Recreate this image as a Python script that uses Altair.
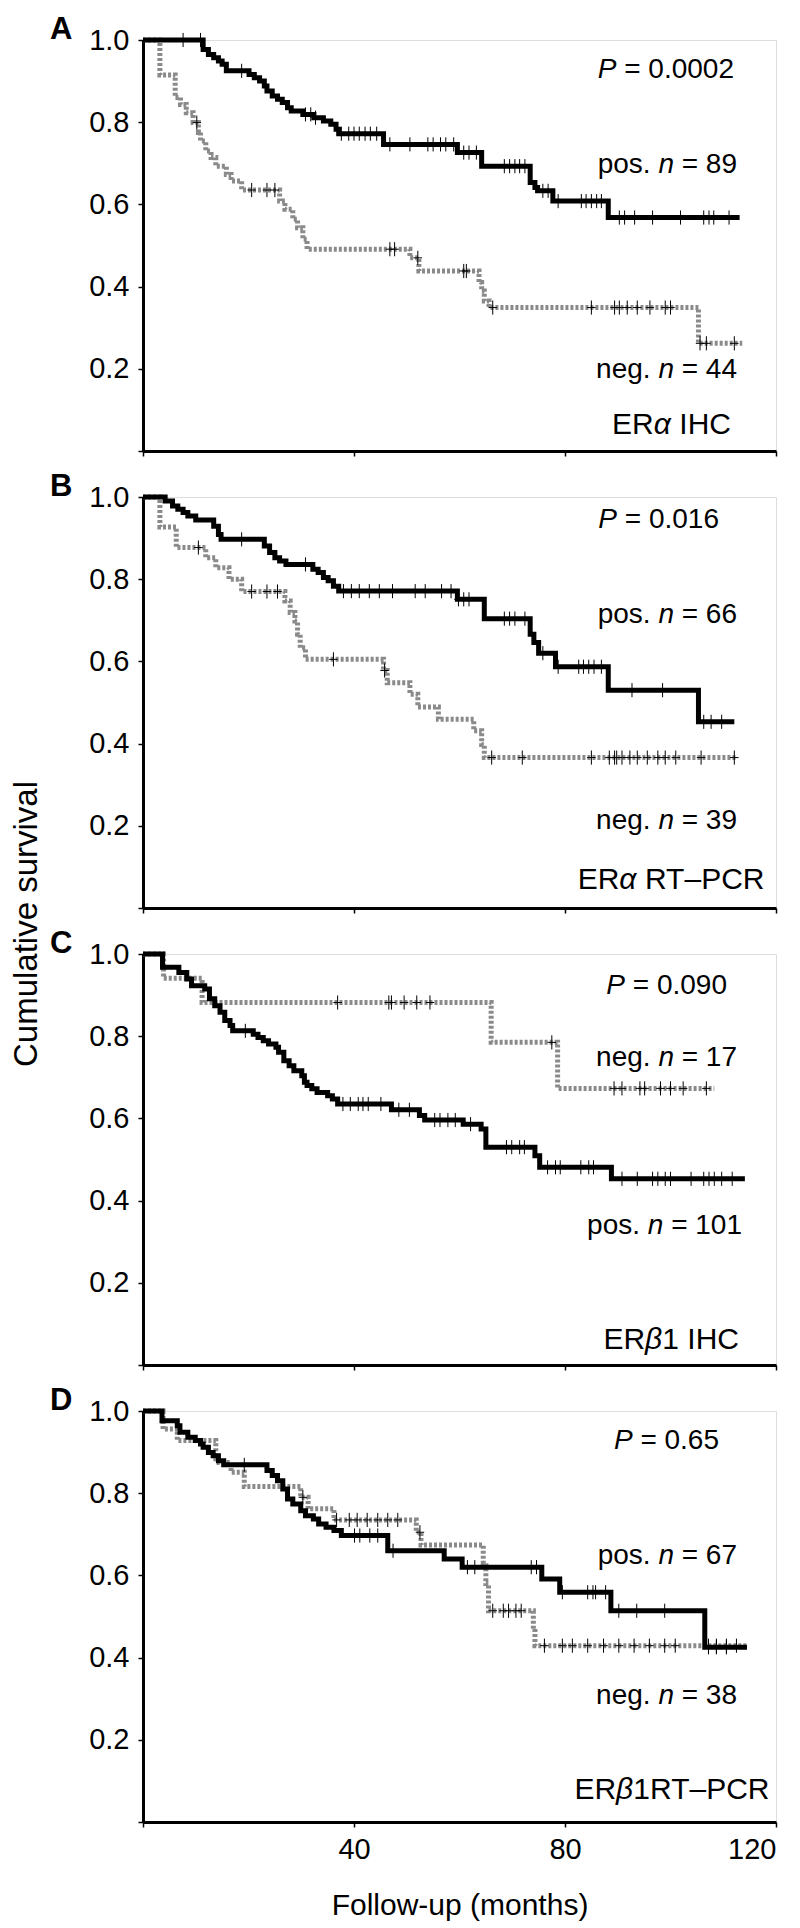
import altair as alt
import pandas as pd

# ---------------- data ----------------
A_pos_t = [0, 11.4, 12.4, 13.4, 14.3, 15.0, 15.8, 20.1, 21.1, 22.1, 23.0, 23.5, 24.5, 25.5, 26.4, 27.4, 28.1,
           30.3, 32.4, 34.2, 35.6, 36.6, 37.1, 45.6, 59.6, 64.2, 73.4, 74.3, 74.8, 77.7, 88.2, 113.1]
A_pos_s = [1.0, 0.977, 0.965, 0.957, 0.949, 0.941, 0.925, 0.916, 0.908, 0.900, 0.888, 0.876, 0.864, 0.856, 0.848,
           0.835, 0.827, 0.819, 0.811, 0.803, 0.795, 0.783, 0.772, 0.746, 0.726, 0.693, 0.653, 0.641, 0.633, 0.608,
           0.568, 0.568]
A_neg_t = [0, 3.2, 6.1, 7.1, 8.2, 9.5, 10.5, 10.9, 11.9, 12.9, 13.8, 15.8, 16.7, 18.7, 25.9, 26.9, 28.4, 29.3,
           30.3, 31.1, 50.6, 52.3, 63.7, 64.2, 64.7, 65.6, 105.3, 113.6]
A_neg_s = [1.0, 0.915, 0.860, 0.843, 0.823, 0.799, 0.775, 0.754, 0.730, 0.714, 0.693, 0.673, 0.657, 0.635, 0.608,
           0.588, 0.564, 0.543, 0.515, 0.491, 0.470, 0.438, 0.410, 0.389, 0.365, 0.349, 0.262, 0.262]
A_pos_cens = [7.6, 10.9, 18.7, 30.8, 31.8, 32.7, 37.6, 39.0, 40.0, 41.0, 42.1, 43.1, 44.3, 46.8, 50.6, 54.0, 55.0,
              56.4, 57.4, 58.9, 60.8, 61.8, 63.2, 68.5, 69.5, 70.5, 71.4, 72.4, 75.8, 76.8, 78.7, 83.1, 84.0, 85.0,
              86.0, 86.9, 90.3, 91.3, 93.2, 96.6, 101.9, 106.3, 107.3, 108.2, 111.1]
A_neg_cens = [10.2, 20.6, 23.5, 25.0, 46.8, 47.7, 52.1, 60.8, 61.3, 66.3, 85.0, 89.4, 90.3, 91.8, 93.7, 96.1, 99.0,
              100.0, 105.6, 106.8, 112.1]

B_pos_t = [0, 4.2, 5.6, 6.6, 7.6, 8.5, 10.0, 13.4, 14.3, 14.8, 23.0, 24.0, 25.0, 25.9, 27.1, 32.2, 33.2, 34.2,
           35.1, 36.1, 37.1, 59.6, 64.7, 73.4, 74.1, 75.0, 78.2, 88.2, 105.3, 112.1]
B_pos_s = [1.0, 0.990, 0.978, 0.970, 0.962, 0.954, 0.944, 0.929, 0.909, 0.897, 0.881, 0.865, 0.852, 0.844, 0.836,
           0.824, 0.816, 0.804, 0.796, 0.783, 0.771, 0.751, 0.704, 0.666, 0.646, 0.620, 0.587, 0.530, 0.453, 0.453]
B_neg_t = [0, 3.2, 6.3, 11.9, 13.8, 16.3, 18.7, 26.9, 27.9, 28.8, 29.3, 29.8, 30.8, 45.6, 46.3, 50.6, 52.1, 56.0,
           62.7, 64.2, 64.7, 112.6]
B_neg_s = [1.0, 0.927, 0.877, 0.852, 0.828, 0.800, 0.770, 0.747, 0.719, 0.698, 0.666, 0.633, 0.605, 0.578, 0.548,
           0.520, 0.489, 0.459, 0.431, 0.398, 0.366, 0.366]
B_pos_cens = [18.7, 30.8, 38.0, 39.5, 41.0, 42.9, 44.8, 47.3, 51.6, 53.5, 56.6, 58.4, 59.8, 60.8, 61.8, 68.5, 69.5,
              70.5, 72.4, 75.8, 78.7, 82.6, 83.5, 84.5, 85.5, 86.9, 92.7, 98.5, 106.3, 107.7, 109.7]
B_neg_cens = [10.5, 20.6, 23.5, 25.5, 36.1, 45.8, 66.1, 71.9, 85.0, 88.4, 89.4, 89.8, 90.8, 92.3, 93.7, 95.6, 97.6,
              99.0, 101.0, 105.8, 112.1]

C_pos_t = [0, 3.7, 6.8, 8.3, 9.2, 11.7, 12.6, 13.6, 14.6, 15.5, 16.5, 17.0, 20.9, 21.8, 22.8, 23.8, 25.2, 25.7,
           26.7, 27.7, 28.6, 30.1, 30.6, 31.1, 32.0, 33.0, 35.0, 35.9, 36.9, 47.1, 52.4, 53.4, 60.7, 64.1, 65.0,
           74.3, 75.2, 88.8, 114.1]
C_pos_s = [1.0, 0.968, 0.955, 0.939, 0.923, 0.915, 0.891, 0.874, 0.858, 0.838, 0.826, 0.813, 0.805, 0.797, 0.789,
           0.781, 0.773, 0.761, 0.740, 0.728, 0.716, 0.704, 0.688, 0.680, 0.672, 0.663, 0.655, 0.647, 0.635, 0.621,
           0.607, 0.596, 0.586, 0.574, 0.530, 0.509, 0.481, 0.453, 0.453]
C_neg_t = [0, 3.9, 11.2, 66.0, 78.6, 108.3]
C_neg_s = [1.0, 0.941, 0.882, 0.785, 0.673, 0.673]
C_pos_cens = [19.4, 37.9, 39.3, 40.8, 41.7, 42.7, 45.1, 48.5, 50.5, 55.3, 56.3, 57.8, 59.2, 62.1, 68.9, 69.9, 71.4,
              72.3, 76.7, 78.2, 79.1, 83.0, 84.5, 85.4, 90.8, 93.7, 96.6, 97.6, 99.0, 100.0, 103.9, 106.3, 107.3,
              108.3, 109.7, 111.7]
C_neg_cens = [36.9, 46.6, 47.1, 49.5, 51.9, 54.4, 77.5, 89.3, 90.8, 94.2, 95.1, 98.1, 100.0, 102.4, 106.8]

D_pos_t = [0, 3.6, 6.5, 7.0, 8.5, 9.9, 10.9, 11.4, 12.4, 13.3, 14.3, 15.3, 23.5, 24.5, 25.5, 26.5, 27.4, 28.4,
           29.9, 30.8, 32.3, 33.3, 34.7, 36.2, 37.6, 46.4, 57.1, 60.5, 75.6, 79.0, 88.7, 106.5, 114.5]
D_pos_s = [1.0, 0.976, 0.964, 0.948, 0.936, 0.928, 0.920, 0.912, 0.899, 0.891, 0.879, 0.869, 0.855, 0.843, 0.830,
           0.810, 0.786, 0.774, 0.757, 0.745, 0.737, 0.725, 0.717, 0.709, 0.697, 0.660, 0.640, 0.620, 0.591, 0.559,
           0.514, 0.425, 0.425]
D_neg_t = [0, 3.8, 6.5, 13.8, 16.7, 19.2, 29.9, 31.3, 36.2, 51.8, 52.7, 64.5, 65.0, 65.5, 74.0, 74.3, 114.5]
D_neg_s = [1.0, 0.956, 0.928, 0.875, 0.851, 0.816, 0.790, 0.762, 0.735, 0.705, 0.674, 0.630, 0.580, 0.514, 0.470,
           0.429, 0.429]
D_pos_cens = [19.2, 40.1, 41.1, 43.0, 44.5, 47.4, 61.5, 62.9, 73.6, 74.6, 79.5, 84.3, 85.3, 85.8, 87.7, 90.2, 93.6,
              98.9, 107.2, 108.7, 110.6]
D_neg_cens = [30.3, 36.7, 39.1, 40.6, 42.5, 44.5, 46.4, 48.3, 52.5, 66.3, 68.3, 69.3, 70.7, 71.7, 76.1, 79.5, 81.4,
              84.3, 87.3, 90.2, 93.1, 96.0, 98.9, 100.9, 107.2, 108.7, 110.6, 112.5]

panel_letters = ["A", "B", "C", "D"]
p_values = ["0.0002", "0.016", "0.090", "0.65"]
pos_n = [89, 66, 101, 67]
neg_n = [44, 39, 17, 38]
x_ticks = [0, 40, 80, 120]
y_ticks = [0, 0.2, 0.4, 0.6, 0.8, 1.0]

# ---------------- styling ----------------
FONT = "Liberation Sans"
GRAY = "#8a8a8a"
W_PLOT, H_PLOT = 633, 411
ANN_SIZE, LAB_SIZE = 28, 30
CHAR_W = {' ': 278, '=': 584, '.': 278, 'P': 667, 'p': 556, 'o': 556, 's': 500, 'n': 556, 'e': 556, 'g': 556,
          'E': 667, 'R': 722, 'I': 278, 'H': 722, 'C': 722, 'T': 611, '–': 556, 'α': 578, 'β': 575}


def tw(s, size):
    return sum(CHAR_W.get(c, 556) for c in s) * size / 1000.0


def seg_rows(segments, right, base, size):
    total = sum(tw(t, size) for t, _ in segments)
    x = right - total
    rows = []
    for t, it in segments:
        lead = len(t) - len(t.lstrip(' '))
        trail = len(t) - len(t.rstrip(' '))
        core = t.strip(' ')
        x += tw(' ' * lead, size)
        rows.append(dict(txt=core, px=x, py=base, it=it, fs=size))
        x += tw(core, size) + tw(' ' * trail, size)
    return rows


def step_df(ts, ss):
    return pd.DataFrame({"t": ts, "s": ss})


def cens_df(ts, ss, cens):
    vals = []
    for c in cens:
        v = ss[0]
        for t, s in zip(ts, ss):
            if t <= c:
                v = s
        vals.append(v)
    return pd.DataFrame({"t": cens, "s": vals})


panels = [
    dict(pos=(A_pos_t, A_pos_s, A_pos_cens), neg=(A_neg_t, A_neg_s, A_neg_cens),
         label=[("ER", 0), ("α", 1), (" IHC", 0)],
         ys=dict(p=38, pos=133, neg=338, er=394), rs=dict(p=591, pos=594, neg=594, er=588)),
    dict(pos=(B_pos_t, B_pos_s, B_pos_cens), neg=(B_neg_t, B_neg_s, B_neg_cens),
         label=[("ER", 0), ("α", 1), (" RT–PCR", 0)],
         ys=dict(p=31, pos=126, neg=332, er=392), rs=dict(p=576, pos=594, neg=594, er=622)),
    dict(pos=(C_pos_t, C_pos_s, C_pos_cens), neg=(C_neg_t, C_neg_s, C_neg_cens),
         label=[("ER", 0), ("β", 1), ("1 IHC", 0)],
         ys=dict(p=40, pos=280, neg=112, er=395), rs=dict(p=584, pos=599, neg=594, er=596)),
    dict(pos=(D_pos_t, D_pos_s, D_pos_cens), neg=(D_neg_t, D_neg_s, D_neg_cens),
         label=[("ER", 0), ("β", 1), ("1RT–PCR", 0)],
         ys=dict(p=38, pos=153, neg=293, er=388), rs=dict(p=576, pos=594, neg=594, er=627)),
]

one = pd.DataFrame({"a": [0]})
charts = []
for i, p in enumerate(panels):
    last = i == 3
    x_enc = alt.X("t:Q", scale=alt.Scale(domain=[0, 120], nice=False),
                  axis=alt.Axis(values=x_ticks, labels=last,
                                labelExpr="datum.value == 0 ? '' : datum.label",
                                title="Follow-up (months)" if last else None,
                                tickSize=5, tickWidth=1.5, tickColor="black",
                                domainColor="black", domainWidth=3,
                                labelFont=FONT, labelFontSize=29, labelColor="black", labelPadding=8,
                                titleFont=FONT, titleFontSize=30, titleFontWeight="normal",
                                titleColor="black", titlePadding=26, grid=False))
    y_enc = alt.Y("s:Q", scale=alt.Scale(domain=[0, 1], nice=False),
                  axis=alt.Axis(values=y_ticks, format=".1f",
                                labelExpr="datum.value == 0 ? '' : datum.label",
                                title=None, tickSize=5, tickWidth=1.5, tickColor="black",
                                domainColor="black", domainWidth=3,
                                labelFont=FONT, labelFontSize=29, labelColor="black", labelPadding=9,
                                grid=False))
    pt, ps, pc = p["pos"]
    nt, ns, nc = p["neg"]
    neg_line = alt.Chart(step_df(nt, ns)).mark_line(
        interpolate="step-after", color=GRAY, strokeWidth=5, strokeDash=[3, 2]).encode(x=x_enc, y=y_enc)
    pos_line = alt.Chart(step_df(pt, ps)).mark_line(
        interpolate="step-after", color="black", strokeWidth=5).encode(x=x_enc, y=y_enc)
    cens = pd.concat([cens_df(nt, ns, nc), cens_df(pt, ps, pc)])
    cens_pts = alt.Chart(cens).mark_point(
        shape="M-0.6,0L0.6,0M0,-1L0,1", size=200, filled=False, stroke="black", strokeWidth=1,
        opacity=1).encode(x=x_enc, y=y_enc)

    ys, rs = p["ys"], p["rs"]
    rows = []
    rows += seg_rows([("P", 1), (" = " + p_values[i], 0)], rs["p"], ys["p"], ANN_SIZE)
    rows += seg_rows([("pos. ", 0), ("n", 1), (" = %d" % pos_n[i], 0)], rs["pos"], ys["pos"], ANN_SIZE)
    rows += seg_rows([("neg. ", 0), ("n", 1), (" = %d" % neg_n[i], 0)], rs["neg"], ys["neg"], ANN_SIZE)
    rows += seg_rows(p["label"], rs["er"], ys["er"], LAB_SIZE)
    tdf = pd.DataFrame(rows)

    def text_layer(df, italic):
        return alt.Chart(df).mark_text(
            align="left", baseline="alphabetic", font=FONT, color="black",
            fontStyle="italic" if italic else "normal").encode(
            x=alt.X("px:Q", scale=None, axis=None), y=alt.Y("py:Q", scale=None, axis=None),
            text="txt:N", size=alt.Size("fs:Q", scale=None, legend=None))

    layers = [neg_line, pos_line, cens_pts,
              text_layer(tdf[tdf.it == 0], False), text_layer(tdf[tdf.it == 1], True),
              alt.Chart(one).mark_text(text=panel_letters[i], align="left", baseline="alphabetic",
                                       font=FONT, fontSize=31, fontWeight="bold", color="black").encode(
                  x=alt.value(-93), y=alt.value(-1))]
    if i == 1:
        layers.append(alt.Chart(one).mark_text(
            text="Cumulative survival", angle=270, align="center", baseline="middle",
            font=FONT, fontSize=33, color="black").encode(x=alt.value(-116), y=alt.value(427)))
    charts.append(alt.layer(*layers).properties(width=W_PLOT, height=H_PLOT))

chart = alt.vconcat(*charts, spacing=46, bounds="flush").properties(
    padding={"left": 2, "top": 5, "right": 0, "bottom": 0}
).configure_view(stroke="black", strokeWidth=3).configure(background="white")

chart.save("out.html", embed_options={"renderer": "svg", "actions": False})
